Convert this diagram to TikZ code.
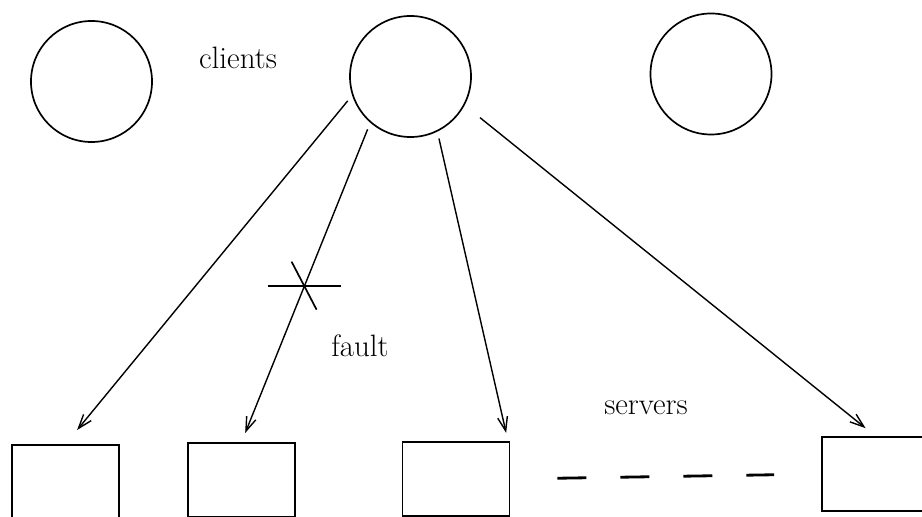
\documentclass[tikz,border=0pt]{standalone}
\usepackage{tikz}
\usetikzlibrary{arrows.meta,calc}

\begin{document}
\begin{tikzpicture}[
  x=0.025cm, y=-0.025cm,
  font=\fontsize{22}{26}\selectfont,
  client/.style={draw, circle, line width=1.2pt, minimum size=3.025cm, inner sep=0pt},
  server/.style={draw, line width=1.2pt, minimum width=2.675cm, minimum height=1.85cm, inner sep=0pt},
  link/.style={-{Straight Barb[length=10pt, width=7pt, line width=1pt]}, line width=1pt,
    shorten <=5pt},
  cross/.style={line width=1.2pt},
]
  \useasboundingbox (0,0) rectangle (922,517);

  % clients
  \node[client] (cl1) at (91.5,81.5) {};
  \node[client] (cl2) at (410.5,76.5) {};
  \node[client] (cl3) at (711,74) {};
  \node (clients) at (238,58) {clients};

  % servers
  \node[server] (sv1) at (65.5,482) {};
  \node[server] (sv2) at (241.5,480) {};
  \node[server] (sv3) at (456,479) {};
  \node[server] (sv4) at (875.5,474) {};
  \node (servers) at (646,408) {servers};

  \draw[link, shorten >=13pt] (cl2.198) -- (sv1.north);
  \draw[link, shorten >=7pt] (cl2.229) -- coordinate[pos=0.51] (cut) (sv2.north);
  \draw[link, shorten >=6pt] (cl2.296) -- ([xshift=37]sv3.north);
  \draw[link, shorten <=14pt, shorten >=9pt] (cl2.332) -- (sv4.north);

  % broken link
  \draw[cross] ($(cut)+(-37,0)$) -- ($(cut)+(36,0)$);
  \draw[cross] ($(cut)+(-13,-24)$) -- ($(cut)+(12,24)$);
  \node (fault) at (360,346) {fault};

  \draw[line width=2pt, dash pattern=on 20.6pt off 24.2pt,
    shorten <=33.4pt, shorten >=33.4pt] (sv3.east) -- (sv4.west);
\end{tikzpicture}
\end{document}
